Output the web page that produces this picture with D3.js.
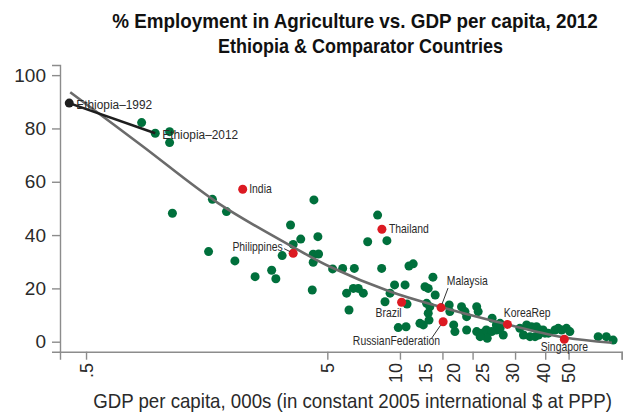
<!DOCTYPE html>
<html>
<head>
<meta charset="utf-8">
<script src="https://cdn.jsdelivr.net/npm/d3@7/dist/d3.min.js"></script>
<style>
  html, body { margin: 0; padding: 0; background: #fff; }
  svg { display: block; }
  text { font-family: "Liberation Sans", Arial, Helvetica, sans-serif; }
</style>
</head>
<body>
<svg id="chart" width="633" height="417"></svg>
<script>
// ---------------- DATA ----------------
const titleLines = ["% Employment in Agriculture vs. GDP per capita, 2012", "Ethiopia & Comparator Countries"];
const xAxisTitle = "GDP per capita, 000s (in constant 2005 international $ at PPP)";

const yTickValues = [0, 20, 40, 60, 80, 100];
const xTickValues = [0.5, 5, 10, 15, 20, 30, 40, 50, 83];
const xTickLabels = [".5", "5", "10", "15", "20", "25", "30", "40", "50"];
const xTickLabelAt = [0.5, 5, 9.6, 12.8, 16.7, 22.0, 29.4, 39.3, 49.8];

// Comparator countries (GDP per capita 000s, % employment in agriculture)
const otherGDP = [0.85, 1.11, 1.11, 1.14, 1.67, 1.91, 1.61, 2.07, 2.51, 2.94, 3.06, 3.25, 3.52, 3.61, 3.88,
  4.33, 4.37, 4.37, 4.60, 4.57, 4.40, 5.26, 5.79, 6.47, 7.35, 8.83, 8.40, 8.08, 10.9, 11.35,
  6.01, 6.41, 6.72, 7.05, 10.5, 12.9, 13.3, 13.1, 13.2, 12.1, 12.5, 9.84, 10.6, 13.7, 13.1,
  12.7, 14.0, 9.1, 9.5, 8.67, 10.7, 6.15, 16.0, 16.1, 16.7, 16.9, 18.9, 18.0, 18.6, 18.9,
  20.8, 21.1, 20.8, 21.8, 22.8, 24.0, 25.1, 26.0, 26.8, 23.0, 21.5, 25.1, 26.0, 24.1, 31.4,
  33.5, 35.1, 36.8, 38.0, 39.2, 32.5, 34.6, 36.3, 37.5, 39.9, 41.2, 43.9, 45.3, 46.8, 49.0,
  50.6, 66.3, 71.7, 76.5];
const otherAg = [82.2, 78.8, 74.7, 48.2, 53.4, 48.8, 33.8, 30.3, 24.4, 26.8, 23.6, 32.3, 43.8, 36.5, 38.5,
  19.4, 29.8, 32.8, 32.9, 39.4, 53.2, 27.3, 27.5, 27.5, 37.5, 37.9, 27.5, 47.5, 28.4, 29.2,
  18.2, 20.0, 20.0, 18.2, 21.3, 14.4, 13.1, 10.7, 8.1, 6.9, 6.3, 5.3, 5.6, 24.2, 20.0,
  20.6, 17.5, 18.2, 21.3, 15.0, 14.1, 11.9, 13.8, 11.3, 6.3, 3.8, 4.4, 13.1, 11.3, 9.4,
  13.1, 11.3, 3.8, 3.2, 4.4, 3.8, 4.4, 5.0, 2.5, 1.3, 1.9, 6.3, 6.9, 8.8, 5.0,
  6.3, 5.6, 5.6, 4.4, 4.4, 2.5, 1.9, 1.9, 2.5, 3.2, 3.2, 4.4, 5.0, 4.4, 5.0,
  3.8, 1.9, 1.9, 0.6];

// Highlighted comparator countries
const highlightNames = ["India", "Philippines", "Thailand", "Brazil", "Malaysia", "RussianFederation", "KoreaRep", "Singapore"];
const highlightGDP = [2.23, 3.61, 8.42, 10.16, 14.8, 15.1, 27.9, 48.0];
const highlightAg = [57.2, 33.2, 42.2, 14.8, 12.8, 7.5, 6.5, 0.9];

// Ethiopia path
const ethiopiaNames = ["Ethiopia\u20131992", "Ethiopia\u20132012"];
const ethiopiaGDP = [0.426, 0.968];
const ethiopiaAg = [89.5, 78.2];

// Fitted curve
const fitGDP = [0.43, 0.85, 1.77, 3.61, 5.13, 9.09, 14.65, 25.1, 47.5, 75.6];
const fitAg = [93.6, 73.6, 51.9, 35.5, 28.1, 18.8, 13.1, 7.5, 1.65, -0.4];

// ---------------- CHART ----------------
const svg = d3.select("#chart");
const green = "#00703c", red = "#dc1a22", dark = "#1e1e1e", axisCol = "#8c8c8c", textCol = "#2a2a2a";

// Horizontally squeeze a text element (narrow-font look) using a transform,
// so its real bounding box matches what is drawn.
function squeeze(sel, cx, cy, factorOrWidth, isWidth) {
  sel.attr("x", 0).attr("y", 0);
  const w = sel.node().getComputedTextLength();
  const sx = isWidth ? factorOrWidth / w : factorOrWidth;
  sel.attr("transform", `translate(${cx},${cy}) scale(${sx},1)`);
  return sel;
}

const x = d3.scaleLog().domain([0.39, 83]).range([60, 621.7]);
const y = d3.scaleLinear().domain([-3.75, 103.8]).range([351.7, 65]);

// Title
const titleWidths = [486, 285];
const titleX = [355, 360.5];
const titleY = [28, 52.5];
titleLines.forEach((t, i) => {
  const s = svg.append("text")
    .attr("text-anchor", "middle")
    .style("font-weight", "bold")
    .style("font-size", "21px")
    .attr("fill", "#111")
    .text(t);
  squeeze(s, titleX[i], titleY[i], titleWidths[i], true);
});

// Y axis
const yAxis = d3.axisLeft(y).tickValues(yTickValues).tickSize(8).tickPadding(6).tickFormat(d3.format("d"));
const gy = svg.append("g").attr("transform", "translate(60,0)").call(yAxis);
gy.select(".domain").attr("stroke", axisCol).attr("stroke-width", 1.4);
gy.selectAll(".tick line").attr("stroke", axisCol).attr("stroke-width", 1.4);
gy.selectAll(".tick text").style("font-size", "19px").attr("fill", textCol).attr("font-family", null);

// X axis
const xAxis = d3.axisBottom(x).tickValues(xTickValues).tickSize(8).tickFormat("");
const gx = svg.append("g").attr("transform", "translate(0,351.7)").call(xAxis);
gx.select(".domain").attr("stroke", axisCol).attr("stroke-width", 1.4);
gx.selectAll(".tick line").attr("stroke", axisCol).attr("stroke-width", 1.4);

// X tick labels (rotated)
svg.append("g").selectAll("text").data(xTickLabels).enter().append("text")
  .attr("transform", (d, i) => `translate(${x(xTickLabelAt[i]) + 6.5},363) rotate(-90)`)
  .attr("text-anchor", "end")
  .style("font-size", "18px")
  .attr("fill", textCol)
  .text(d => d);

// X axis title
squeeze(svg.append("text")
  .attr("text-anchor", "middle")
  .style("font-size", "20px")
  .attr("fill", textCol)
  .text(xAxisTitle), 352.5, 408, 519, true);

// Green points
const others = otherGDP.map((g, i) => ({ g, a: otherAg[i] }));
svg.append("g").selectAll("circle").data(others).enter().append("circle")
  .attr("cx", d => x(d.g)).attr("cy", d => y(d.a)).attr("r", 4.5)
  .attr("fill", green);

// Ethiopia 2012 dot (green)
svg.append("circle").attr("cx", x(ethiopiaGDP[1])).attr("cy", y(ethiopiaAg[1])).attr("r", 4.5).attr("fill", green);

// Fit line
const fit = fitGDP.map((g, i) => ({ g, a: fitAg[i] }));
svg.append("path").datum(fit)
  .attr("d", d3.line().x(d => x(d.g)).y(d => y(d.a)).curve(d3.curveCatmullRom.alpha(0.5)))
  .attr("fill", "none").attr("stroke", "#6b6b6b").attr("stroke-width", 2.6);

// Ethiopia line
const eth = ethiopiaGDP.map((g, i) => ({ g, a: ethiopiaAg[i] }));
svg.append("path").datum(eth)
  .attr("d", d3.line().x(d => x(d.g)).y(d => y(d.a)))
  .attr("fill", "none").attr("stroke", dark).attr("stroke-width", 2.6);
svg.append("circle").attr("cx", x(ethiopiaGDP[0])).attr("cy", y(ethiopiaAg[0])).attr("r", 4.5).attr("fill", dark);

// Red points
const highs = highlightNames.map((n, i) => ({ n, g: highlightGDP[i], a: highlightAg[i] }));
svg.append("g").selectAll("circle").data(highs).enter().append("circle")
  .attr("cx", d => x(d.g)).attr("cy", d => y(d.a)).attr("r", 4.5)
  .attr("fill", red);

// Label placement (offsets in px relative to the dot)
const labelStyle = {
  "India": { dx: 6.5, dy: 4, anchor: "start" },
  "Philippines": { dx: -10.5, dy: -2.6, anchor: "end", leader: [-9, -4.5, -3, -1.5] },
  "Thailand": { dx: 7, dy: 3.6, anchor: "start" },
  "Brazil": { dx: 0, dy: 14.4, anchor: "end" },
  "Malaysia": { dx: 5.7, dy: -22.7, anchor: "start", leader: [7, -19.5, 1, -3.5] },
  "RussianFederation": { dx: -3, dy: 23.3, anchor: "end", leader: [-11.5, 16.5, -2.5, 3.5] },
  "KoreaRep": { dx: -3.7, dy: -7, anchor: "start" },
  "Singapore": { dx: 0, dy: 11.6, anchor: "middle" }
};
const lab = svg.append("g");
highs.forEach(d => {
  const s = labelStyle[d.n];
  const cx = x(d.g), cy = y(d.a);
  if (s.leader) {
    lab.append("line")
      .attr("x1", cx + s.leader[0]).attr("y1", cy + s.leader[1])
      .attr("x2", cx + s.leader[2]).attr("y2", cy + s.leader[3])
      .attr("stroke", "#333").attr("stroke-width", 1);
  }
  squeeze(lab.append("text")
    .attr("text-anchor", s.anchor)
    .style("font-size", "13px")
    .attr("fill", textCol)
    .text(d.n), cx + s.dx, cy + s.dy, 0.8, false);
});
ethiopiaNames.forEach((n, i) => {
  squeeze(lab.append("text")
    .style("font-size", "13.5px")
    .attr("fill", textCol)
    .text(n), x(ethiopiaGDP[i]) + 7, y(ethiopiaAg[i]) + 6, 0.88, false);
});
</script>
</body>
</html>
